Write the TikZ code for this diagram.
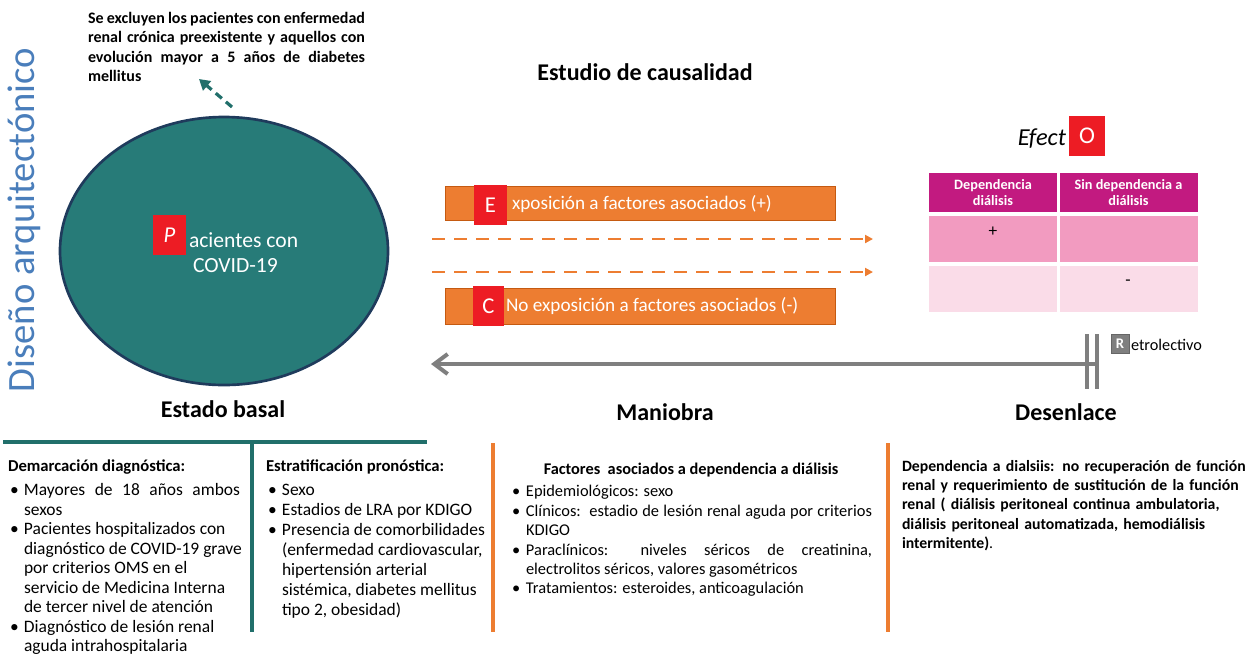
\documentclass[tikz,border=0pt]{standalone}
\usepackage{fontspec}
\setmainfont{Carlito}
\usetikzlibrary{shapes.geometric,arrows.meta}
\hyphenpenalty=10000
\exhyphenpenalty=10000
\definecolor{tealfill}{HTML}{277B78}
\definecolor{tealline}{HTML}{216F6B}
\definecolor{ellborder}{HTML}{1F3B5C}
\definecolor{orng}{HTML}{ED7D31}
\definecolor{orngdark}{HTML}{C55A11}
\definecolor{redbox}{HTML}{ED1C24}
\definecolor{magh}{HTML}{C21A80}
\definecolor{magr1}{HTML}{F29BC0}
\definecolor{magr2}{HTML}{FADCE8}
\definecolor{grayarr}{HTML}{7F7F7F}
\definecolor{vblue}{HTML}{4A7EBB}
\newcommand\bitem[1]{\par\hangindent=12pt\hangafter=1\noindent\makebox[12pt][l]{\hspace{1.5pt}•}#1\par}
\tikzset{
  txt/.style={inner sep=0pt, outer sep=0pt},
  body/.style={txt, anchor=north west, align=justify, font=\fontsize{13.1pt}{14.6pt}\selectfont},
  bbody/.style={txt, anchor=north west, align=justify, font=\bfseries\fontsize{12pt}{14.6pt}\selectfont},
  bigl/.style={txt, font=\bfseries\fontsize{18pt}{21pt}\selectfont},
  redsq/.style={fill=redbox, draw=none, inner sep=0pt, text=white},
  obox/.style={fill=orng, draw=orngdark, line width=0.6pt, inner sep=0pt},
  cell/.style={draw=white, line width=1.5pt, inner sep=0pt, align=center},
  odash/.style={orng, line width=2.2pt, dash pattern=on 9.5pt off 7pt, -{Triangle[length=6pt,width=6pt]}},
  vbar/.style={grayarr, line width=2.5pt},
}
\begin{document}
\begin{tikzpicture}[x=0.75pt,y=-0.75pt]
\useasboundingbox (0,0) rectangle (1251,654);

% vertical title
\node[txt, rotate=90, text=vblue, font=\fontsize{29pt}{32pt}\selectfont] (vt) at (24,220) {Diseño arquitectónico};

% exclusion note
\node[bbody, text width=207.75pt] (excl) at (88,12) {Se excluyen los pacientes con enfermedad renal crónica preexistente y aquellos con evolución mayor a 5 años de diabetes mellitus};

% population ellipse
\node[ellipse, fill=tealfill, draw=ellborder, line width=2pt, minimum width=246pt, minimum height=201pt, inner sep=0pt] (pop) at (224,251) {};
\node[redsq, minimum width=24.75pt, minimum height=30pt, font=\itshape\fontsize{17pt}{20pt}\selectfont] (P) at (169.5,235) {P};
\node[txt, anchor=west, text=white, font=\fontsize{16.2pt}{19pt}\selectfont] (ptxt1) at (189,240) {acientes con};
\node[txt, anchor=west, text=white, font=\fontsize{16.2pt}{19pt}\selectfont] (ptxt2) at (193,265.5) {COVID-19};

% dashed teal arrow from ellipse to note
\coordinate (exA) at (232,107);
\coordinate (exB) at (199,79);
\draw[tealline, line width=2.4pt, dash pattern=on 6pt off 4pt, -{Triangle[length=8pt,width=9pt]}] (exA) -- (exB);

% study title
\node[bigl] (study) at (645,72) {Estudio de causalidad};

% exposure boxes
\node[obox, minimum width=292.5pt, minimum height=25.5pt] (expo) at (640,203) {};
\node[redsq, minimum width=24.75pt, minimum height=30pt, font=\fontsize{17pt}{20pt}\selectfont] (E) at (490.5,205) {E};
\node[txt, anchor=west, text=white, font=\fontsize{14.4pt}{17pt}\selectfont] (etxt) at (512,204) {xposición a factores asociados (+)};

\node[obox, minimum width=292.5pt, minimum height=27pt] (ctrl) at (640,306) {};
\node[redsq, minimum width=23.25pt, minimum height=30pt, font=\fontsize{17pt}{20pt}\selectfont] (C) at (488.5,306) {C};
\node[txt, anchor=west, text=white, font=\fontsize{14.4pt}{17pt}\selectfont] (ctxt) at (506,306) {No exposición a factores asociados (-)};

% dashed orange arrows
\coordinate (d1a) at (432,239);
\coordinate (d1b) at (873,239);
\coordinate (d2a) at (432,272);
\coordinate (d2b) at (873,272);
\draw[odash] (d1a) -- (d1b);
\draw[odash] (d2a) -- (d2b);

% effect
\node[txt, anchor=east, font=\itshape\fontsize{18.3pt}{21pt}\selectfont] (efect) at (1066,139) {Efect};
\node[redsq, minimum width=27pt, minimum height=30pt, font=\fontsize{18pt}{21pt}\selectfont] (O) at (1087,136) {O};

% table
\node[cell, fill=magh, text=white, minimum width=98pt, minimum height=31pt, font=\bfseries\fontsize{10.7pt}{11.5pt}\selectfont] (h1) at (993,192.5) {Dependencia\\diálisis};
\node[cell, fill=magh, text=white, minimum width=105pt, minimum height=31pt, font=\bfseries\fontsize{10.7pt}{11.5pt}\selectfont] (h2) at (1128.5,192.5) {Sin dependencia a\\diálisis};
\node[cell, fill=magr1, minimum width=98pt, minimum height=36pt] (r11) at (993,239) {};
\node[cell, fill=magr1, minimum width=105pt, minimum height=36pt] (r12) at (1128.5,239) {};
\node[cell, fill=magr2, minimum width=98pt, minimum height=36pt] (r21) at (993,288.5) {};
\node[cell, fill=magr2, minimum width=105pt, minimum height=36pt] (r22) at (1128.5,288.5) {};
\node[txt, font=\fontsize{13pt}{15pt}\selectfont] (plus) at (993,232) {+};
\node[txt, font=\fontsize{13pt}{15pt}\selectfont] (minus) at (1128,283) {-};

% retrolective arrow
\coordinate (b1t) at (1087,334);
\coordinate (b1b) at (1087,389);
\coordinate (b2t) at (1097,334);
\coordinate (b2b) at (1097,389);
\draw[vbar] (b1t) -- (b1b);
\draw[vbar] (b2t) -- (b2b);
\coordinate (rstart) at (1097,364);
\coordinate (rend) at (431,364);
\draw[grayarr, line width=3pt, -{Straight Barb[length=10pt,width=15pt,line width=3pt]}] (rstart) -- (rend);
\node[fill=grayarr, draw=black!60, line width=0.5pt, text=white, inner sep=0pt, minimum width=13.5pt, minimum height=14.25pt, font=\bfseries\fontsize{11pt}{12pt}\selectfont] (R) at (1120,343.5) {R};
\node[txt, anchor=west, font=\fontsize{12.2pt}{14pt}\selectfont] (retro) at (1131,344.5) {etrolectivo};

% stage labels
\node[bigl] (basal) at (223,409) {Estado basal};
\node[bigl] (man) at (665,412) {Maniobra};
\node[bigl] (des) at (1066,412) {Desenlace};

% bottom separators
\coordinate (hl1) at (3,442);
\coordinate (hl2) at (427,442);
\draw[tealline, line width=3pt] (hl1) -- (hl2);
\coordinate (tv1) at (252,442);
\coordinate (tv2) at (252,632);
\draw[tealline, line width=3pt] (tv1) -- (tv2);
\coordinate (ov1) at (493,443);
\coordinate (ov2) at (493,632);
\draw[orng, line width=2.5pt] (ov1) -- (ov2);
\coordinate (ow1) at (888,443);
\coordinate (ow2) at (888,632);
\draw[orng, line width=2.5pt] (ow1) -- (ow2);

% block 1
\node[body, text width=174pt] (blk1) at (8,460) {{\bfseries\fontsize{12.5pt}{14.6pt}\selectfont Demarcación diagnóstica:\par}\vspace{3.5pt}
\bitem{Mayores de 18 años ambos sexos}
\bitem{\mbox{Pacientes hospitalizados con}\\\mbox{diagnóstico de COVID-19 grave}\\por criterios OMS en el\\\mbox{servicio de Medicina Interna}\\\mbox{de tercer nivel de atención}}
\bitem{\mbox{Diagnóstico de lesión renal}\\aguda intrahospitalaria}};

% block 2
\node[body, text width=180pt, font=\fontsize{13.1pt}{15.1pt}\selectfont] (blk2) at (266,460) {{\bfseries\fontsize{12.5pt}{14.6pt}\selectfont Estratificación pronóstica:\par}\vspace{2.5pt}
\bitem{Sexo}
\bitem{Estadios de LRA por KDIGO}
\bitem{Presencia de comorbilidades\\(enfermedad cardiovascular,\\hipertensión arterial\\sistémica, diabetes mellitus\\tipo 2, obesidad)}};

% block 3
\node[body, text width=271.5pt, font=\fontsize{12.3pt}{14.6pt}\selectfont] (blk3) at (510,463) {\centerline{\bfseries\fontsize{12.25pt}{14.6pt}\selectfont Factores\ \ asociados a dependencia a diálisis}\vspace{2pt}
\bitem{Epidemiológicos: sexo}
\bitem{Clínicos:\ \ estadio de lesión renal aguda por criterios\linebreak KDIGO}
\bitem{Paraclínicos: niveles séricos de creatinina,\linebreak electrolitos séricos, valores gasométricos}
\bitem{Tratamientos: esteroides, anticoagulación}};

% block 4
\node[bbody, text width=264pt, align=left, font=\bfseries\fontsize{11.8pt}{14.6pt}\selectfont] (blk4) at (902,460) {Dependencia a dialsiis: no recuperación de función\\renal y requerimiento de sustitución de la función\\renal ( diálisis peritoneal continua ambulatoria,\\diálisis peritoneal automatizada, hemodiálisis\\intermitente){\mdseries .}};
\end{tikzpicture}
\end{document}
